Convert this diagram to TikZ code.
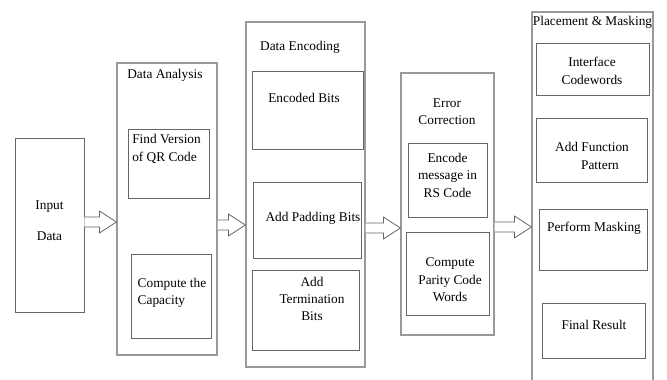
\documentclass[tikz,border=0pt]{standalone}
\usepackage{fontspec}
\setmainfont{Liberation Serif}
\usetikzlibrary{calc,fit,positioning}

% open block arrow from node #1 to node #2 at height #3
\newcommand{\flowarrow}[3]{%
  \coordinate (#1-out) at (#1.east |- 0,#3);
  \coordinate (#2-in) at (#2.west |- 0,#3);
  \draw[arrowline] ($(#1-out)+(0,-5)$) -- ($(#2-in)+(-17,-5)$) -- ($(#2-in)+(-17,-11)$)
    -- (#2-in) -- ($(#2-in)+(-17,11)$) -- ($(#2-in)+(-17,5)$) -- ($(#1-out)+(0,5)$);
}

\begin{document}
\begin{tikzpicture}[x=0.75pt,y=-0.75pt,
  font=\fontsize{10}{13}\selectfont,
  outerbox/.style={draw=black!40, line width=0.9pt, inner sep=0pt},
  innerbox/.style={draw=black!60, line width=0.7pt, inner sep=0pt, align=center},
  txt/.style={inner sep=0pt, align=center},
  arrowline/.style={draw=black!60, line width=0.6pt, fill=white}]
\useasboundingbox (0,0) rectangle (667,379);

% input
\node[innerbox, align=left, fit={(15,138) (84,312)}] (inp) {Input\\[10pt]Data};

% data analysis
\node[outerbox, fit={(117,63) (217,355)}] (ana) {};
\node[txt, anchor=west] at (127,75) {Data Analysis};
\node[innerbox, fit={(128,129) (209,198)}] (fv) {};
\node[txt, anchor=west, align=left] at (132,149) {Find Version\\of QR Code};
\node[innerbox, fit={(131,254) (211,338)}] (cc) {};
\node[txt, align=left] at (172,293) {Compute the\\Capacity};

% data encoding
\node[outerbox, fit={(246,22) (365,367)}] (enc) {};
\node[txt] at (300,47) {Data Encoding};
\node[innerbox, fit={(252,71) (363,149)}] (eb) {};
\node[txt] at (304,98) {Encoded Bits};
\node[innerbox, fit={(253,182) (361,258)}] (ap) {};
\node[txt] at (313,218) {Add Padding Bits};
\node[innerbox, fit={(252,270) (359,350)}] (tb) {};
\node[txt] at (312,299) {Add\\Termination\\Bits};

% error correction
\node[outerbox, fit={(401,73) (494,335)}] (err) {};
\node[txt] at (447,112) {Error\\Correction};
\node[innerbox, fit={(408,143) (487,217)}] (em) {Encode\\message in\\RS Code};
\node[innerbox, fit={(406,232) (489,315)}] (pc) {};
\node[txt] at (450,280) {Compute\\Parity Code\\Words};

% placement and masking
\node[outerbox, fit={(532,12) (653,386)}] (plc) {};
\node[txt] at (592.5,22) {Placement \& Masking};
\node[innerbox, fit={(536,43) (649,95)}] (ic) {};
\node[txt] at (592,71) {Interface\\Codewords};
\node[innerbox, fit={(536,118) (647,182)}] (af) {};
\node[txt] at (592,156) {Add Function\\\hspace{1.2em}Pattern};
\node[innerbox, fit={(539,209) (647,270)}] (pm) {};
\node[txt] at (594,228) {Perform Masking};
\node[innerbox, fit={(542,303) (645,358)}] (fr) {};
\node[txt] at (594,325) {Final Result};

% arrows between stages
\flowarrow{inp}{ana}{222}
\flowarrow{ana}{enc}{225}
\flowarrow{enc}{err}{228}
\flowarrow{err}{plc}{227}
\end{tikzpicture}
\end{document}
